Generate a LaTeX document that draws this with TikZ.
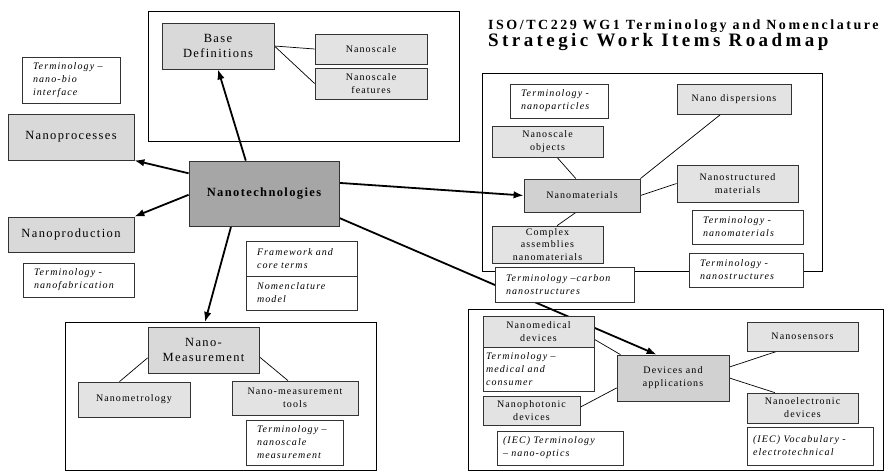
\documentclass[tikz,border=0pt]{standalone}
\usepackage{fontspec}
\setmainfont{Liberation Serif}
\newfontfamily\boxfont[LetterSpace=11]{Liberation Serif}
\newfontfamily\titlefont[LetterSpace=18]{Liberation Serif}
\usetikzlibrary{arrows.meta}
\definecolor{leafgray}{gray}{0.89}
\definecolor{hubgray}{gray}{0.85}
\definecolor{matgray}{gray}{0.82}
\definecolor{coregray}{gray}{0.65}
\definecolor{boxline}{gray}{0.2}
\pgfdeclarelayer{background}
\pgfsetlayers{background,main}

\begin{document}
\begin{tikzpicture}[x=1pt,y=-1pt,
  leaf/.style={draw=boxline, fill=leafgray, line width=0.8pt, align=center, inner sep=1pt,
    font=\boxfont\fontsize{10}{13}\selectfont},
  hub/.style={leaf, fill=hubgray, font=\boxfont\fontsize{12.5}{15}\selectfont},
  note/.style={draw=boxline, fill=white, line width=0.8pt, align=left, inner xsep=#1, inner ysep=1pt,
    font=\boxfont\itshape\fontsize{10}{13}\selectfont},
  note/.default=11pt,
  link/.style={line width=0.7pt},
  arr/.style={line width=1.8pt, -{Latex[length=10pt,width=7.5pt]}},
  group/.style={line width=0.8pt}]
\useasboundingbox (0,0) rectangle (890,471);

% title
\node[anchor=base west, inner sep=0pt, text depth=0pt, font=\titlefont\bfseries\fontsize{14}{16}\selectfont] (title) at (488,29.5) {ISO/TC229 WG1 Terminology and Nomenclature};
\node[anchor=base west, inner sep=0pt, text height=12.5pt, font=\titlefont\bfseries\fontsize{19}{22}\selectfont] (subtitle) at (488,46) {Strategic Work Items Roadmap};

% base definitions
\node[hub, minimum width=112pt, minimum height=46pt] (basedef) at (218,46) {Base\\Definitions};
\node[leaf, minimum width=112pt, minimum height=30pt] (nanoscale) at (371,49) {Nanoscale};
\node[leaf, minimum width=112pt, minimum height=31pt] (scalefeat) at (371,83.5) {Nanoscale\\features};

% left column
\node[note, text width=76pt, minimum height=46pt] (biotrm) at (71,80) {Terminology~–\\nano-bio\\interface};
\node[hub, minimum width=126pt, minimum height=46pt] (nanoproc) at (71,137) {Nanoprocesses};
\node[hub, minimum width=126pt, minimum height=35pt] (nanoprod) at (71,234.5) {Nanoproduction};
\node[note, text width=89pt, minimum height=34pt] (fabtrm) at (78.5,280) {Terminology~-\\nanofabrication};

% centre
\node[leaf, fill=coregray, minimum width=150pt, minimum height=65pt,
  font=\boxfont\bfseries\fontsize{12.5}{15}\selectfont] (nanotech) at (264,193.5) {Nanotechnologies};
\node[note, text width=89pt, minimum height=35pt] (framewk) at (301.5,258.5) {Framework and\\core terms};
\node[note, text width=89pt, minimum height=34pt] (nomencl) at (301.5,293) {Nomenclature\\model};

% measurement
\node[hub, minimum width=111pt, minimum height=46pt] (nanomeas) at (203.5,350) {Nano-\\Measurement};
\node[leaf, minimum width=112pt, minimum height=35pt] (metrology) at (134,399.5) {Nanometrology};
\node[leaf, minimum width=126pt, minimum height=34pt] (meastool) at (295,398) {Nano-measurement\\tools};
\node[note, text width=75pt, minimum height=45pt] (meastrm) at (294.5,442.5) {Terminology~–\\nanoscale\\measurement};

% materials
\node[note, text width=76pt, minimum height=34pt] (partrm) at (559,101) {Terminology~-\\nanoparticles};
\node[leaf, minimum width=111pt, minimum height=31pt] (objects) at (547.5,141.5) {Nanoscale\\objects};
\node[leaf, minimum width=114pt, minimum height=30pt] (dispers) at (734,99) {Nano dispersions};
\node[leaf, fill=matgray, minimum width=116pt, minimum height=33pt] (nanomat) at (582,195.5) {Nanomaterials};
\node[leaf, minimum width=121pt, minimum height=37pt] (structd) at (737.5,183.5) {Nanostructured\\materials};
\node[note, text width=89pt, minimum height=34pt] (mattrm) at (747.5,227) {Terminology~-\\nanomaterials};
\node[leaf, minimum width=111pt, minimum height=37pt, font=\boxfont\fontsize{10}{12.5}\selectfont] (complex) at (547.5,244.5) {Complex\\assemblies\\nanomaterials};
\node[note, text width=92pt, minimum height=34pt] (structrm) at (746,270) {Terminology~-\\nanostructures};
\node[note, text width=117pt, minimum height=35pt] (carbontrm) at (564.5,284.5) {Terminology~–carbon\\nanostructures};

% devices
\node[leaf, minimum width=111pt, minimum height=31pt] (medical) at (538.5,331.5) {Nanomedical\\devices};
\node[note=3pt, text width=105pt, minimum height=44pt] (medtrm) at (538.5,369) {Terminology~–\\medical and\\consumer};
\node[leaf, minimum width=97pt, minimum height=29pt] (photonic) at (531.5,410.5) {Nanophotonic\\devices};
\node[note=6pt, text width=114pt, minimum height=34pt] (optictrm) at (560,448) {(IEC) Terminology\\– nano-optics};
\node[leaf, fill=matgray, minimum width=112pt, minimum height=46pt] (devapp) at (673,378) {Devices and\\applications};
\node[leaf, minimum width=111pt, minimum height=29pt] (sensors) at (802.5,336.5) {Nanosensors};
\node[leaf, minimum width=111pt, minimum height=30pt] (electron) at (802.5,408) {Nanoelectronic\\devices};
\node[note=6pt, text width=114pt, minimum height=38pt] (electrm) at (810,446) {(IEC) Vocabulary~-\\electrotechnical};

\begin{pgfonlayer}{background}
  % groups
  \draw[group] (148,11) rectangle (459,141);
  \draw[group] (482,73) rectangle (822,271);
  \draw[group] (65,322) rectangle (376,470);
  \draw[group] (468,309) rectangle (883,470);
  \coordinate (meastop) at (205,322);
  % main arrows
  \draw[arr] (nanotech.119) -- (basedef.south);
  \draw[arr] (nanotech.165) -- (nanoproc.south east);
  \draw[arr] (nanotech.181) -- (nanoprod.north east);
  \draw[arr] (nanotech.8) -- (nanomat.west);
  \draw[arr] (nanotech.225) -- (meastop);
  \draw[arr] (nanotech.342) -- (devapp.125);
  % links
  \draw[link] (basedef.east) -- (nanoscale.west);
  \draw[link] (basedef.east) -- (scalefeat.west);
  \draw[link] (objects.301) -- (nanomat.110);
  \draw[link] (dispers.229) -- (nanomat.north east);
  \draw[link] (structd.west) -- (nanomat.east);
  \draw[link] (complex.63) -- (nanomat.250);
  \draw[link] (nanomeas.188) -- (metrology.129);
  \draw[link] (nanomeas.353) -- (meastool.112);
  \draw[link] (medical.352) -- (devapp.156);
  \draw[link] (photonic.4) -- (devapp.190);
  \draw[link] (devapp.11) -- (sensors.210);
  \draw[link] (devapp.east) -- (electron.151);
\end{pgfonlayer}
\end{tikzpicture}
\end{document}
